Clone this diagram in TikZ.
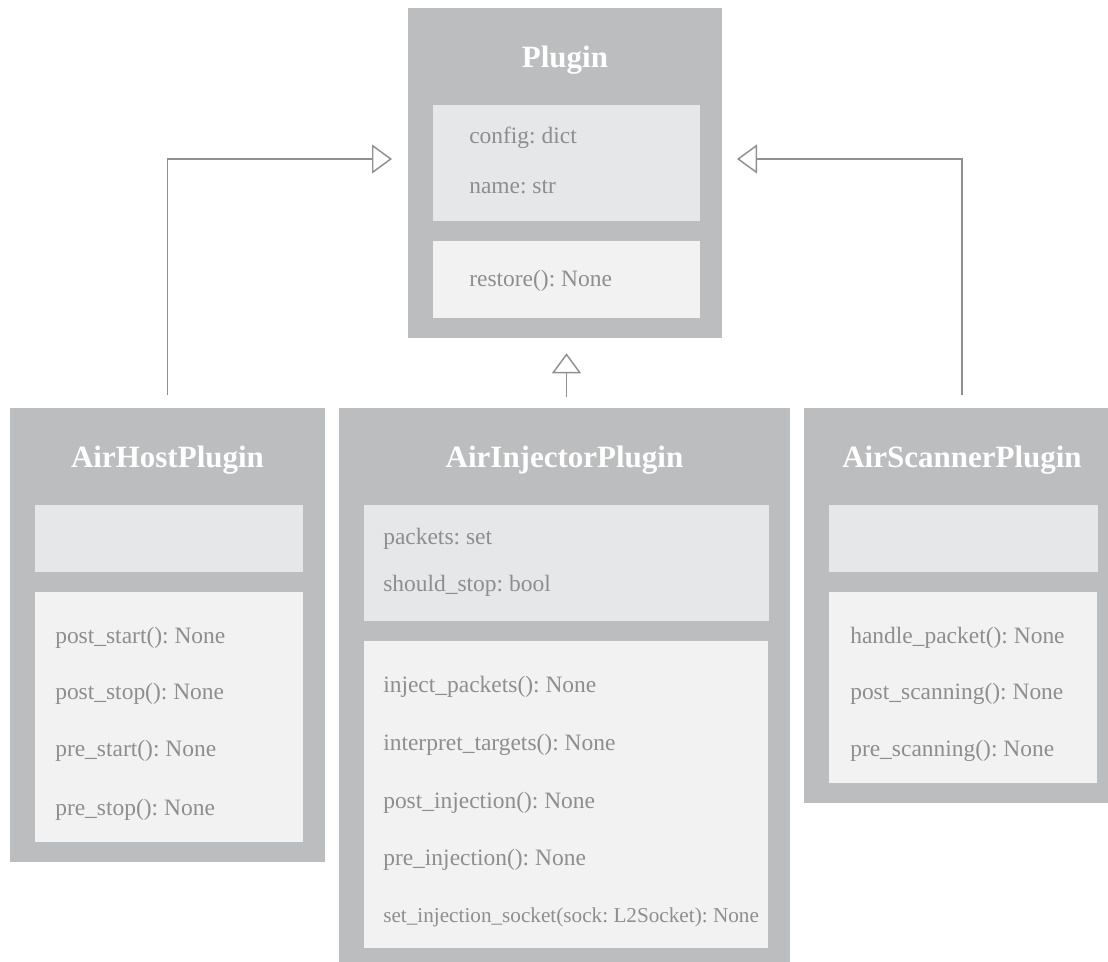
\documentclass[tikz,border=0pt]{standalone}
\usepackage{fontspec}
\setmainfont{Liberation Serif}
\usetikzlibrary{arrows.meta,fit}
\frenchspacing

\definecolor{classgray}{HTML}{BCBDBF}
\definecolor{attrfill}{HTML}{E6E7E8}
\definecolor{methfill}{HTML}{F2F2F2}
\definecolor{membertext}{HTML}{8E8E8E}
\definecolor{linkgray}{HTML}{909090}

\tikzset{
  classbox/.style={fill=classgray, inner sep=0pt, draw=none},
  attrbox/.style={fill=attrfill, inner sep=0pt, draw=none},
  methbox/.style={fill=methfill, inner sep=0pt, draw=none},
  classtitle/.style={anchor=base, inner sep=0pt, text=white,
    font=\bfseries\fontsize{23.25}{28}\selectfont},
  member/.style={anchor=base west, inner sep=0pt, text=membertext,
    font=\fontsize{17.6}{21}\selectfont},
  smallmember/.style={member, font=\fontsize{15.9}{19}\selectfont},
  inherit/.style={draw=linkgray, line width=1.1pt,
    -{Triangle[open, length=15pt, width=21.75pt]}}
}

\begin{document}
\begin{tikzpicture}[x=0.75pt, y=-0.75pt]
\useasboundingbox (0,0) rectangle (1108,962);
\clip (0,0) rectangle (1108,962);

% Plugin
\node[classbox, fit={(408,8)(722,338)}] (plugin) {};
\node[attrbox, fit={(433,105)(700,221)}] (pluginattr) {};
\node[methbox, fit={(433,241)(700,318)}] (pluginmeth) {};
\node[classtitle] (plugintitle) at (565,68) {Plugin};
\node[member] (p1) at (469,144) {config: dict};
\node[member] (p2) at (469,194) {name: str};
\node[member] (p3) at (469,287) {restore(): None};

% AirHostPlugin
\node[classbox, fit={(10,408)(325,862)}] (airhost) {};
\node[attrbox, fit={(35,505)(303,572)}] (airhostattr) {};
\node[methbox, fit={(35,592)(303,842)}] (airhostmeth) {};
\node[classtitle] (airhosttitle) at (167.5,468) {AirHostPlugin};
\node[member] (h1) at (55,643) {post\_start(): None};
\node[member] (h2) at (55,700) {post\_stop(): None};
\node[member] (h3) at (55,757) {pre\_start(): None};
\node[member] (h4) at (55,815) {pre\_stop(): None};

% AirInjectorPlugin
\node[classbox, fit={(339,408)(790,968)}] (airinj) {};
\node[attrbox, fit={(364,505)(769,621)}] (airinjattr) {};
\node[methbox, fit={(364,641)(768,948)}] (airinjmeth) {};
\node[classtitle] (airinjtitle) at (564.5,468) {AirInjectorPlugin};
\node[member] (i1) at (383,545) {packets: set};
\node[member] (i2) at (383,592) {should\_stop: bool};
\node[member] (i3) at (383,693) {inject\_packets(): None};
\node[member] (i4) at (383,750) {interpret\_targets(): None};
\node[member] (i5) at (383,808) {post\_injection(): None};
\node[member] (i6) at (383,865) {pre\_injection(): None};
\node[smallmember] (i7) at (383,922) {set\_injection\_socket(sock: L2Socket): None};

% AirScannerPlugin
\node[classbox, fit={(804,408)(1120,803)}] (airscan) {};
\node[attrbox, fit={(829,505)(1098,572)}] (airscanattr) {};
\node[methbox, fit={(829,592)(1097,783)}] (airscanmeth) {};
\node[classtitle] (airscantitle) at (962,468) {AirScannerPlugin};
\node[member] (s1) at (850,643) {handle\_packet(): None};
\node[member] (s2) at (850,700) {post\_scanning(): None};
\node[member] (s3) at (850,757) {pre\_scanning(): None};

% Inheritance links
\coordinate (hosttip) at (392,159);
\coordinate (scantip) at (737,159);
\draw[inherit, shorten <=9.75pt] (airhost.north) |- (hosttip);
\draw[inherit, shorten <=9.75pt] (airscan.north) |- (scantip);
\draw[inherit, shorten <=8.25pt, shorten >=11.25pt]
  ([xshift=1.5pt]airinj.north) -- ([xshift=1.5pt]airinj.north |- plugin.south);
\end{tikzpicture}
\end{document}
